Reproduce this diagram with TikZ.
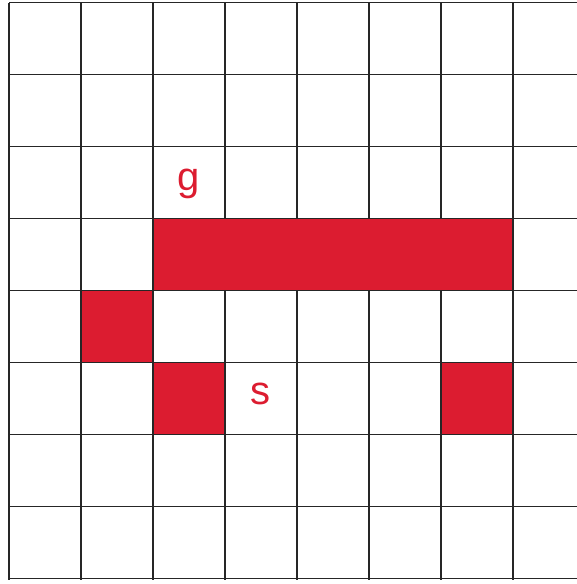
\documentclass[tikz,border=0pt]{standalone}
\usepackage{fontspec}
\setmainfont{Liberation Sans}
\definecolor{cellred}{HTML}{DC1C30}
\begin{document}
\begin{tikzpicture}[x=1pt,y=-1pt,
  gridline/.style={line width=1.3pt,draw=black!85},
  filled/.style={fill=cellred,draw=black!85,line width=1.3pt},
  lbl/.style={text=cellred,font=\fontsize{40}{40}\selectfont,inner sep=0pt}]
\useasboundingbox (0,0) rectangle (577,584);
% grid
\foreach \i in {0,...,7} {
  \draw[gridline] ({9+72*\i},2.5) -- ({9+72*\i},579.5);
}
\foreach \j in {0,...,8} {
  \draw[gridline] (9,{2.5+72*\j}) -- (577,{2.5+72*\j});
}
% red cells
\filldraw[filled] (153,218.5) rectangle (513,290.5);
\filldraw[filled] (81,290.5) rectangle (153,362.5);
\filldraw[filled] (153,362.5) rectangle (225,434.5);
\filldraw[filled] (441,362.5) rectangle (513,434.5);
\node[lbl] (g) at (189,184) {g};
\node[lbl] (s) at (260,394) {s};
\end{tikzpicture}
\end{document}
